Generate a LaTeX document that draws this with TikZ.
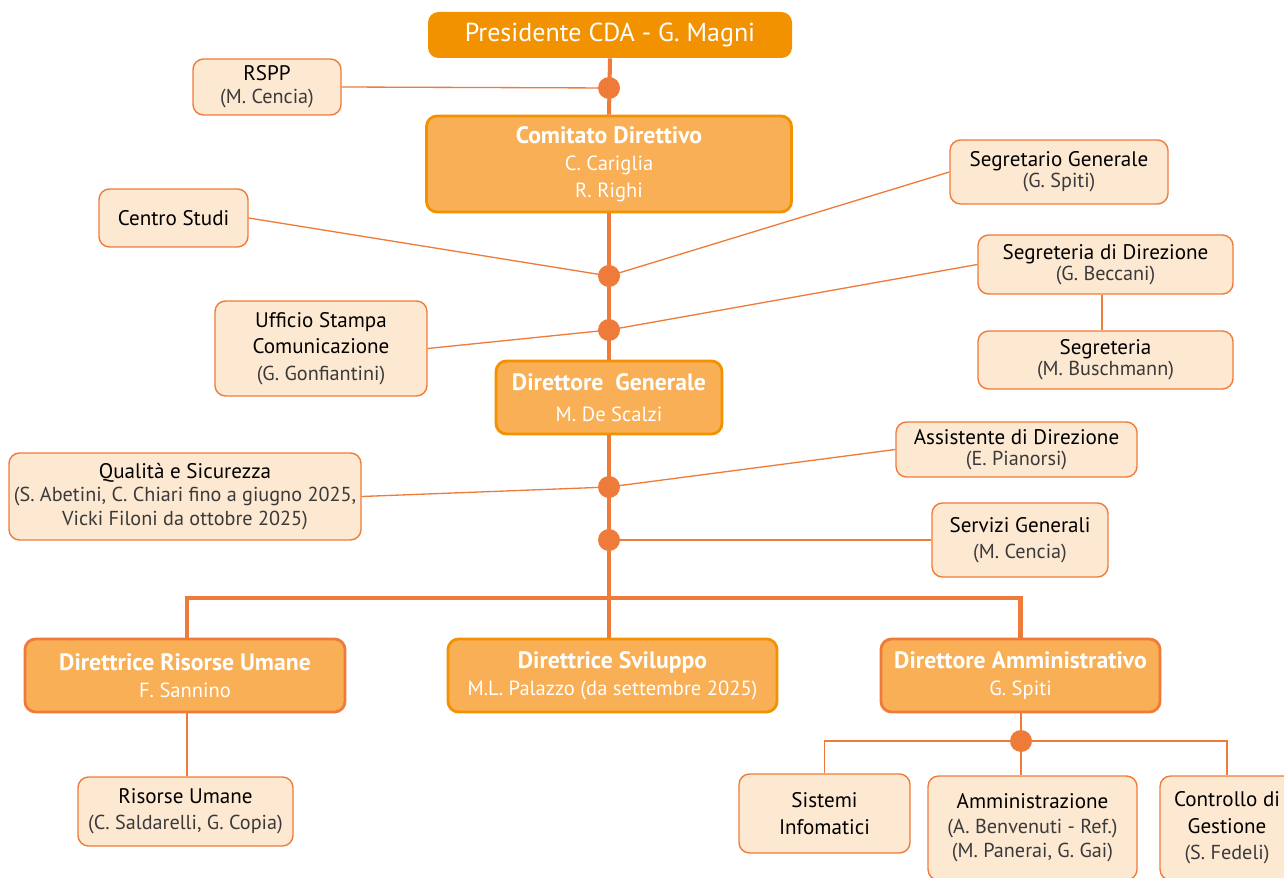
\documentclass[tikz,border=0pt]{standalone}
\usepackage{fontspec}
\setmainfont{PT Sans}
\usetikzlibrary{positioning}
\definecolor{presorange}{HTML}{F39200}
\definecolor{midorange}{HTML}{F8AF55}
\definecolor{lightorange}{HTML}{FDE8D2}
\definecolor{lineorange}{HTML}{EE7B3A}
\definecolor{subgray}{HTML}{3A3A3A}
\tikzstyle{unit}=[draw=lineorange,fill=lightorange,line width=0.8pt,rounded corners=6pt,
               align=center,inner sep=1pt,font=\fontsize{12}{15}\selectfont]
\tikzstyle{head}=[draw=presorange,fill=midorange,line width=1.6pt,rounded corners=6pt,
               align=center,inner sep=1pt,text=white,font=\fontsize{11.7}{15.3}\selectfont]
\tikzstyle{headred}=[head,draw=lineorange]
\tikzstyle{pres}=[fill=presorange,rounded corners=6pt,text=white,inner sep=1pt,
               font=\fontsize{14.8}{17}\selectfont]
\tikzstyle{trunk}=[draw=lineorange,line width=2.3pt]
\tikzstyle{branch}=[draw=lineorange,line width=0.75pt]
\tikzstyle{joint}=[circle,fill=lineorange,minimum size=0.44cm,inner sep=0pt]
\tikzset{boxsize/.style 2 args={minimum width=#1*0.02cm,minimum height=#2*0.02cm}}
\newcommand{\who}[1]{{\color{subgray}\fontsize{11.5}{15}\selectfont #1}}
\newcommand{\boss}[1]{{\fontsize{13.5}{15.3}\selectfont\bfseries #1}}

\begin{document}
\begin{tikzpicture}[x=0.02cm,y=-0.02cm]

\clip (0,0) rectangle (1284,878);

% % % % % % % % % % % % % % %
% top of the chart

\node[pres,boxsize={364}{46}] (pres) at (610,35) {Presidente CDA - G. Magni};
\node[head,boxsize={365}{96}] (com) at (609,164) {\boss{Comitato Direttivo}\\C. Cariglia\\R. Righi};
\node[head,boxsize={226}{73}] (dg) at (609,397.5) {\boss{Direttore\ \ Generale}\\[2pt]M. De Scalzi};

\node[unit,boxsize={148}{56}] (rspp) at (267,87) {RSPP\\[-2pt]\who{(M. Cencia)}};
\node[unit,boxsize={149}{58}] (studi) at (173.5,218) {Centro Studi};
\node[unit,boxsize={218}{64}] (segen) at (1059,172) {Segretario Generale\\[-3pt]\who{(G. Spiti)}};
\node[unit,boxsize={255}{59}] (segdir) at (1105.5,264.5) {Segreteria di Direzione\\[-3pt]\who{(G. Beccani)}};
\node[unit,boxsize={255}{58}] (segr) at (1105.5,360) {Segreteria\\[-3pt]\who{(M. Buschmann)}};
\node[unit,boxsize={212}{95}] (stampa) at (321,348.5) {Ufficio Stampa\\Comunicazione\\\who{(G. Gonfiantini)}};

\node[unit,boxsize={241}{55}] (assist) at (1016.5,449.5) {Assistente di Direzione\\[-3pt]\who{(E. Pianorsi)}};
\node[unit,boxsize={352}{87}] (qual) at (185,496.5) {Qualità e Sicurezza\\[-1.5pt]\who{(S. Abetini, C. Chiari fino a giugno 2025,}\\[-1.5pt]\who{Vicki Filoni da ottobre 2025)}};
\node[unit,boxsize={176}{74}] (serv) at (1020,540) {Servizi Generali\\[-0.5pt]\who{(M. Cencia)}};

% % % % % % % % % % % % % % %
% directors

\node[headred,boxsize={320}{73}] (dru) at (185,675.5) {\boss{Direttrice Risorse Umane}\\F. Sannino};
\node[head,boxsize={329}{73}] (svil) at (612.5,675.5) {\boss{Direttrice Sviluppo}\\M.L. Palazzo (da settembre 2025)};
\node[headred,boxsize={279}{73}] (dam) at (1020.5,675.5) {\boss{Direttore Amministrativo}\\G. Spiti};

\node[unit,boxsize={215}{69}] (ru) at (185.5,811.5) {Risorse Umane\\\who{(C. Saldarelli, G. Copia)}};
\node[unit,boxsize={171}{79}] (sis) at (824.5,813.5) {Sistemi\\[0.5pt]Infomatici};
\node[unit,boxsize={209}{104}] (amm) at (1032.5,828) {Amministrazione\\[-1pt]\who{(A. Benvenuti - Ref.)}\\[-1pt]\who{(M. Panerai, G. Gai)}};
\node[unit,boxsize={134}{104}] (ctrl) at (1227,828) {Controllo di\\Gestione\\\who{(S. Fedeli)}};

% % % % % % % % % % % % % % %
% connectors

\coordinate (j1) at (609,88);
\coordinate (j2) at (609,276);
\coordinate (j3) at (609,330);
\coordinate (j4) at (609,487);
\coordinate (j5) at (609,540);
\coordinate (bus) at (609,598);
\coordinate (j6) at (1021,741);

\draw[trunk] (pres.south) -- (com.north);
\draw[trunk] (com.south) -- (dg.north);
\draw[trunk] (dg.south) -- (dg.south |- svil.north);
\draw[trunk] (dru.north -| 187,0) |- (bus) -| (dam.north);

\draw[branch] (rspp.east) -- (j1);
\draw[branch] (studi.east) -- (j2) -- (segen.west);
\draw[branch] (stampa.east) -- (j3) -- (segdir.west);
\draw[branch] (segdir.south -| 1102,0) -- (segr.north -| 1102,0);
\draw[branch] (qual.east) -- (j4) -- (assist.west);
\draw[branch] (j5) -- (serv.west);

\draw[branch] (ru.north -| 187,0) -- (dru.south -| 187,0);
\draw[branch] (dam.south -| j6) -- (j6 |- amm.north);
\draw[branch] (sis.north) |- (j6) -| (ctrl.north);

\foreach \j in {j1,j2,j3,j4,j5,j6} {
\node[joint] (\j dot) at (\j) {};
}

\end{tikzpicture}
\end{document}
